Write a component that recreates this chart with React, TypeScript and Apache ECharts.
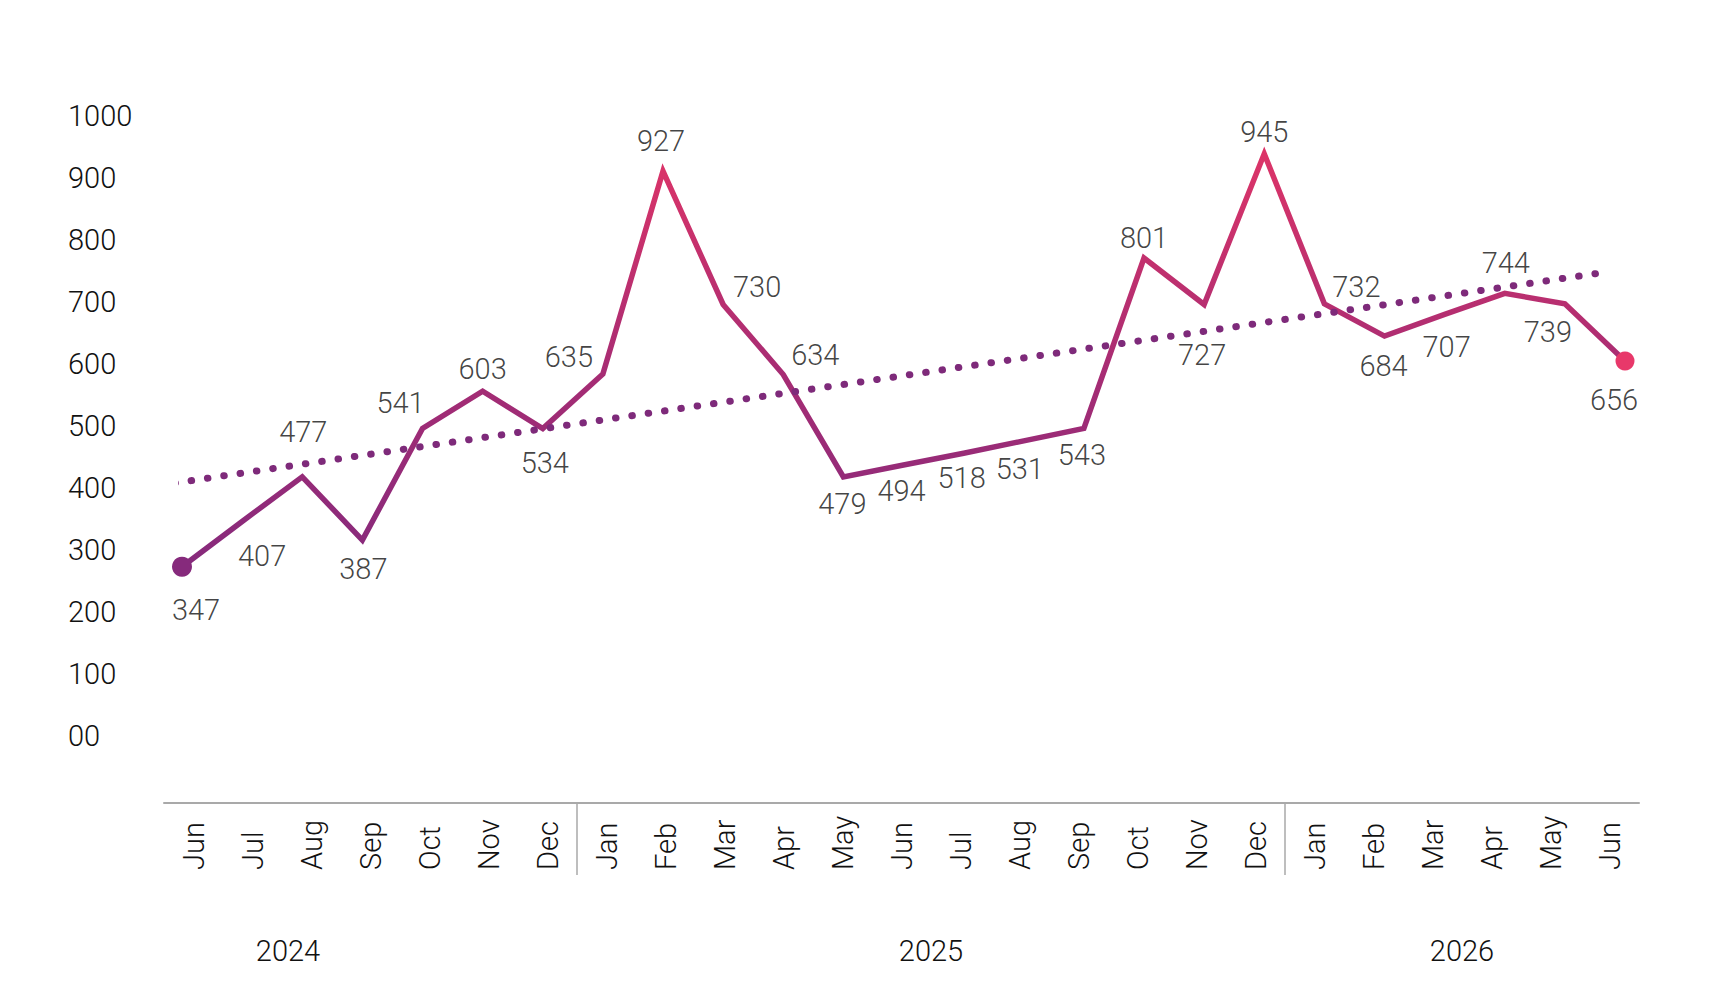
import React, { useEffect, useRef } from "react";
import * as echarts from "echarts";

// ---- data ----
const months = ["Jun", "Jul", "Aug", "Sep", "Oct", "Nov", "Dec", "Jan", "Feb", "Mar", "Apr", "May", "Jun", "Jul", "Aug", "Sep", "Oct", "Nov", "Dec", "Jan", "Feb", "Mar", "Apr", "May", "Jun"];
const years = ["2024", "2025", "2026"];
// plotted positions of the line
const plotted = [273, 346, 418, 316, 496, 556, 496, 584, 911, 696, 583, 418, 437, 456, 476, 496, 771, 696, 939, 697, 645, 680, 714, 697, 605];
// printed value labels
const valueLabels = ["347", "407", "477", "387", "541", "603", "534", "635", "927", "730", "634", "479", "494", "518", "531", "543", "801", "727", "945", "732", "684", "707", "744", "739", "656"];
// dotted trend line: start / end (x in month index, y in value)
const trendStart = [-0.12, 408];
const trendEnd = [23.67, 748];
const yTicks = ["00", "100", "200", "300", "400", "500", "600", "700", "800", "900", "1000"];
// year boundaries (index of first month of each year; 0 = axis start, hidden)
const yearStarts = [0, 7, 19];

// ---- layout (not data) ----
const labelOffsets: number[][] = [
  [14, 43], [20, 35], [1, -45], [1, 29], [-22, -25], [0, -22], [2, 35], [-34, -17], [-2, -30],
  [34, -17], [32, -20], [-1, 27], [-2, 26], [-2, 25], [-4, 28], [-2, 27], [0, -20], [-2, 51],
  [0, -22], [32, -17], [-1, 30], [2, 33], [1, -30], [-17, 28], [-11, 39],
];
const yearX = [288, 931, 1462];
const FONT = "Roboto";
const TXT = "#111111";
const GRAY = "#a9a9a9";

export default function App() {
  const ref = useRef<HTMLDivElement>(null);
  useEffect(() => {
    if (!ref.current) return;
    const chart = echarts.init(ref.current, null, { renderer: "svg" });
    const lineGrad = new echarts.graphic.LinearGradient(0, 1, 0, 0, [
      { offset: 0, color: "#862a7c" },
      { offset: 0.45, color: "#a52c74" },
      { offset: 1, color: "#dc3468" },
    ]);
    const option: any = {
      animation: false,
      backgroundColor: "#ffffff",
      textStyle: { fontFamily: FONT },
      grid: [
        { left: 182, right: 89, top: 116, bottom: 262 },
        { left: 164, right: 75, top: 803, bottom: 123 },
      ],
      xAxis: [
        { gridIndex: 0, type: "value", min: 0, max: 24, show: false },
        {
          gridIndex: 1,
          type: "category",
          data: months,
          boundaryGap: true,
          position: "top",
          axisLine: { show: true, onZero: false, lineStyle: { color: GRAY, width: 2 } },
          axisTick: { show: false },
          axisLabel: {
            show: true,
            inside: true,
            interval: 0,
            rotate: -90,
            align: "left",
            margin: 67,
            color: TXT,
            fontFamily: FONT,
            fontWeight: 300,
            fontSize: 29,
          },
          splitLine: {
            show: true,
            showMinLine: false,
            showMaxLine: false,
            interval: (i: number) => yearStarts.indexOf(i) >= 0,
            lineStyle: { color: GRAY, width: 1.5 },
          },
        },
      ],
      yAxis: [
        {
          gridIndex: 0,
          type: "value",
          min: 0,
          max: 1000,
          interval: 100,
          axisLine: { show: false },
          axisTick: { show: false },
          splitLine: { show: false },
          axisLabel: {
            align: "left",
            margin: 114,
            color: TXT,
            fontFamily: FONT,
            fontWeight: 300,
            fontSize: 29,
            formatter: (v: number) => yTicks[Math.round(v / 100)],
          },
        },
        { gridIndex: 1, type: "value", min: 0, max: 1, show: false },
      ],
      series: [
        {
          type: "line",
          xAxisIndex: 0,
          yAxisIndex: 0,
          data: plotted.map((v, i) => [i, v]),
          symbol: "none",
          lineStyle: { color: lineGrad, width: 5.5, join: "miter" },
          z: 2,
        },
        {
          type: "line",
          xAxisIndex: 0,
          yAxisIndex: 0,
          clip: false,
          data: [trendStart, trendEnd],
          symbol: "none",
          lineStyle: { color: "#7e2a7a", width: 7, type: [0.5, 16], cap: "round" },
          z: 3,
        },
        {
          type: "scatter",
          xAxisIndex: 0,
          yAxisIndex: 0,
          data: [
            { value: [0, plotted[0]], itemStyle: { color: "#862a7c", opacity: 1 }, symbolSize: 20 },
            { value: [plotted.length - 1, plotted[plotted.length - 1]], itemStyle: { color: "#e8386a", opacity: 1 }, symbolSize: 19 },
          ],
          z: 4,
        },
        {
          type: "scatter",
          xAxisIndex: 0,
          yAxisIndex: 0,
          symbolSize: 1,
          itemStyle: { color: "rgba(0,0,0,0)" },
          data: plotted.map((v, i) => ({
            value: [i, v],
            label: { offset: labelOffsets[i] },
          })),
          label: {
            show: true,
            position: "inside",
            color: TXT,
            fontFamily: FONT,
            fontWeight: 300,
            fontSize: 29,
            formatter: (p: any) => valueLabels[p.dataIndex],
          },
          z: 5,
        },
      ],
      graphic: years.map((y, i) => ({
        type: "text",
        x: yearX[i],
        y: 951,
        style: {
          text: y,
          fill: TXT,
          fontFamily: FONT,
          fontWeight: 300,
          fontSize: 29,
          align: "center",
          verticalAlign: "middle",
        },
      })),
    };
    chart.setOption(option);
    return () => chart.dispose();
  }, []);
  return (
    <div
      ref={ref}
      style={{ position: "fixed", left: 0, top: 0, width: 1714, height: 998, background: "#fff" }}
    />
  );
}
